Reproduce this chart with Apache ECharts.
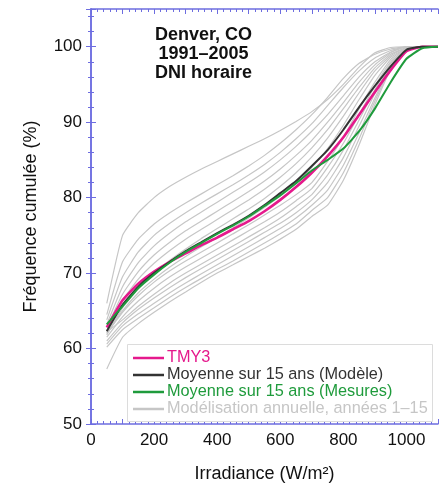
<!DOCTYPE html>
<html>
<head>
<meta charset="utf-8">
<script src="https://cdn.jsdelivr.net/npm/echarts@6/dist/echarts.min.js"></script>
<style>
  html, body { margin: 0; padding: 0; background: #fff; }
  #chart { width: 441px; height: 488px; }
</style>
</head>
<body>
<div id="chart"></div>
<script>
// Irradiance bins (W/m2)
const irradiance = [50, 100, 150, 200, 250, 300, 350, 400, 450, 500, 550, 600,
                    650, 700, 750, 800, 850, 900, 950, 1000, 1050, 1100];

// Cumulative frequency (%) for each bin
const tmy3 = [62.8, 66.4, 68.6, 70.2, 71.5, 72.6, 73.7, 74.7, 75.8, 76.9, 78.2, 79.7,
              81.4, 83.3, 85.5, 88.0, 91.0, 94.0, 96.9, 99.4, 100, 100];
const meanModel = [62.3, 65.8, 68.2, 70.0, 71.5, 72.9, 74.1, 75.3, 76.4, 77.6, 79.0, 80.6,
                   82.2, 84.2, 86.3, 89.0, 92.0, 94.8, 97.4, 99.6, 100, 100];
const meanMeasured = [63.2, 65.6, 68.0, 69.8, 71.4, 72.8, 74.0, 75.2, 76.3, 77.5, 78.9, 80.3,
                      81.9, 83.6, 85.0, 86.5, 88.8, 91.8, 95.3, 98.4, 99.8, 100];

// Yearly modelled curves, years 1-15
const year01 = [66.0, 75.0, 78.0, 80.0, 81.5, 82.7, 83.8, 84.8, 85.8, 86.8, 87.8, 88.9, 90.1, 91.4, 93.0, 95.0, 97.3, 99.2, 99.9, 100, 100, 100];
const year02 = [64.5, 71.5, 74.5, 76.5, 78.0, 79.3, 80.5, 81.7, 82.9, 84.2, 85.6, 87.2, 89.0, 91.0, 93.3, 95.8, 97.8, 99.0, 99.7, 100, 100, 100];
const year03 = [63.8, 69.5, 72.8, 75.0, 76.6, 78.0, 79.3, 80.5, 81.7, 83.0, 84.4, 86.0, 87.8, 89.8, 92.2, 94.6, 96.8, 98.5, 99.5, 100, 100, 100];
const year04 = [63.2, 68.2, 71.4, 73.6, 75.3, 76.8, 78.1, 79.4, 80.7, 82.0, 83.4, 85.0, 86.8, 88.8, 91.0, 93.5, 96.0, 98.0, 99.3, 100, 100, 100];
const year05 = [62.8, 67.2, 70.2, 72.4, 74.1, 75.6, 76.9, 78.2, 79.5, 80.8, 82.2, 83.8, 85.6, 87.6, 90.0, 92.6, 95.3, 97.6, 99.2, 100, 100, 100];
const year06 = [62.4, 66.4, 69.2, 71.3, 73.0, 74.5, 75.8, 77.1, 78.4, 79.7, 81.1, 82.7, 84.5, 86.6, 89.0, 91.8, 94.6, 97.2, 99.0, 99.9, 100, 100];
const year07 = [61.8, 65.4, 68.0, 70.0, 71.7, 73.2, 74.6, 75.9, 77.2, 78.5, 79.9, 81.5, 83.3, 85.4, 87.9, 90.8, 93.9, 96.8, 98.8, 99.9, 100, 100];
const year08 = [62.0, 65.0, 67.4, 69.2, 70.8, 72.2, 73.5, 74.7, 76.0, 77.3, 78.7, 80.2, 81.9, 84.0, 86.5, 89.6, 93.0, 96.2, 98.6, 99.8, 100, 100];
const year09 = [62.0, 64.8, 67.0, 68.8, 70.3, 71.6, 72.8, 74.0, 75.2, 76.4, 77.7, 79.0, 80.4, 82.0, 84.8, 88.0, 91.8, 95.3, 98.3, 99.8, 100, 100];
const year10 = [61.5, 64.2, 66.3, 68.0, 69.5, 70.8, 72.0, 73.2, 74.4, 75.6, 76.8, 78.1, 79.6, 81.2, 84.0, 87.2, 91.0, 94.8, 98.0, 99.7, 100, 100];
const year11 = [62.2, 63.8, 65.6, 67.2, 68.7, 70.0, 71.2, 72.4, 73.6, 74.8, 76.0, 77.3, 78.8, 80.4, 83.0, 86.3, 90.3, 94.3, 97.8, 99.7, 100, 100];
const year12 = [61.0, 63.4, 65.2, 66.7, 68.1, 69.4, 70.6, 71.8, 73.0, 74.2, 75.4, 76.6, 78.0, 79.7, 82.0, 85.3, 89.5, 93.8, 97.5, 99.6, 100, 100];
const year13 = [60.6, 63.0, 64.6, 66.0, 67.4, 68.7, 69.9, 71.1, 72.3, 73.5, 74.7, 75.9, 77.3, 79.0, 81.0, 84.3, 88.6, 93.2, 97.3, 99.6, 100, 100];
const year14 = [60.2, 62.5, 64.0, 65.4, 66.8, 68.1, 69.3, 70.5, 71.6, 72.8, 74.0, 75.2, 76.5, 78.3, 80.0, 83.3, 87.8, 92.8, 97.1, 99.5, 100, 100];
const year15 = [57.3, 61.5, 63.3, 64.8, 66.2, 67.5, 68.8, 70.0, 71.1, 72.2, 73.3, 74.5, 75.8, 77.5, 79.0, 82.3, 87.0, 92.3, 97.0, 99.5, 100, 100];
const yearly = [year01, year02, year03, year04, year05, year06, year07, year08,
                year09, year10, year11, year12, year13, year14, year15];

// Axis ticks
const xTicks = [0, 200, 400, 600, 800, 1000];
const yTicks = [50, 60, 70, 80, 90, 100];

const NAME_TMY3 = 'TMY3';
const NAME_MODEL = 'Moyenne sur 15 ans (Modèle)';
const NAME_MEAS = 'Moyenne sur 15 ans (Mesures)';
const NAME_YEARS = 'Modélisation annuelle, années 1–15';

const C_TMY3 = '#e5198c';
const C_MODEL = '#333333';
const C_MEAS = '#1f9b3c';
const C_YEARS = '#c6c6c6';
const C_AXIS = '#6d6de0';

const pairs = ys => irradiance.map((x, i) => [x, ys[i]]);
const FONT = 'Liberation Sans, Arial, Helvetica, sans-serif';

function curve(name, ys, color, width, z) {
  return {
    name: name, type: 'line', data: pairs(ys), showSymbol: false,
    smooth: 0.15,
    lineStyle: { color: color, width: width }, itemStyle: { color: color },
    z: z
  };
}

const series = [];
yearly.forEach(ys => series.push(curve(NAME_YEARS, ys, C_YEARS, 1.2, 1)));
series.push(curve(NAME_TMY3, tmy3, C_TMY3, 2.6, 2));
series.push(curve(NAME_MODEL, meanModel, C_MODEL, 2, 3));
series.push(curve(NAME_MEAS, meanMeasured, C_MEAS, 2, 4));

function axisCommon(extra) {
  return Object.assign({
    axisLine: { show: true, lineStyle: { color: C_AXIS, width: 1.5 } },
    axisTick: { show: true, inside: true, length: 5, lineStyle: { color: C_AXIS } },
    minorTick: { show: true, splitNumber: 5, length: 3, lineStyle: { color: C_AXIS } },
    splitLine: { show: false },
    minorSplitLine: { show: false }
  }, extra);
}

const chart = echarts.init(document.getElementById('chart'), null, { renderer: 'canvas' });
chart.setOption({
  animation: false,
  backgroundColor: '#fff',
  textStyle: { fontFamily: FONT },
  title: {
    text: 'Denver, CO\n1991–2005\nDNI horaire',
    left: 203.5, top: 25.5, textAlign: 'center', padding: 0,
    textStyle: { fontFamily: FONT, fontSize: 18, fontWeight: 'bold', color: '#111', lineHeight: 19 }
  },
  grid: { left: 91, right: 3, top: 9, bottom: 60 },
  graphic: [{
    type: 'rect', left: 127, top: 344, z: 5,
    shape: { width: 305, height: 77 },
    style: { fill: '#fff', stroke: '#dcdcdc', lineWidth: 1 }
  }],
  legend: {
    orient: 'vertical', left: 133, top: 350, z: 6,
    icon: 'rect', itemWidth: 31, itemHeight: 2.5, itemGap: 1,
    padding: 0,
    textStyle: { fontFamily: FONT, fontSize: 16.3, padding: [0, 0, 0, -2] },
    data: [
      { name: NAME_TMY3, textStyle: { color: C_TMY3 } },
      { name: NAME_MODEL, textStyle: { color: C_MODEL } },
      { name: NAME_MEAS, textStyle: { color: C_MEAS } },
      { name: NAME_YEARS, textStyle: { color: C_YEARS } }
    ]
  },
  xAxis: [
    axisCommon({
      type: 'value', min: 0, max: 1100, interval: 100,
      axisLabel: {
        color: '#111', fontSize: 17, margin: 8, fontFamily: FONT,
        formatter: v => xTicks.includes(v) ? String(v) : ''
      },
      name: 'Irradiance (W/m²)', nameLocation: 'middle', nameGap: 41,
      nameTextStyle: { color: '#111', fontSize: 18, fontFamily: FONT }
    }),
    axisCommon({
      type: 'value', min: 0, max: 1100, interval: 100, position: 'top',
      axisLabel: { show: false }
    })
  ],
  yAxis: [
    axisCommon({
      type: 'value', min: 50, max: 105, interval: 10,
      axisLabel: {
        color: '#111', fontSize: 17, margin: 9, fontFamily: FONT,
        formatter: v => yTicks.includes(v) ? String(v) : ''
      },
      name: 'Fréquence cumulée (%)', nameLocation: 'middle', nameGap: 51,
      nameTextStyle: { color: '#111', fontSize: 18, fontFamily: FONT }
    }),
    axisCommon({
      type: 'value', min: 50, max: 105, interval: 10, position: 'right',
      axisLabel: { show: false }
    })
  ],
  series: series
});
</script>
</body>
</html>
